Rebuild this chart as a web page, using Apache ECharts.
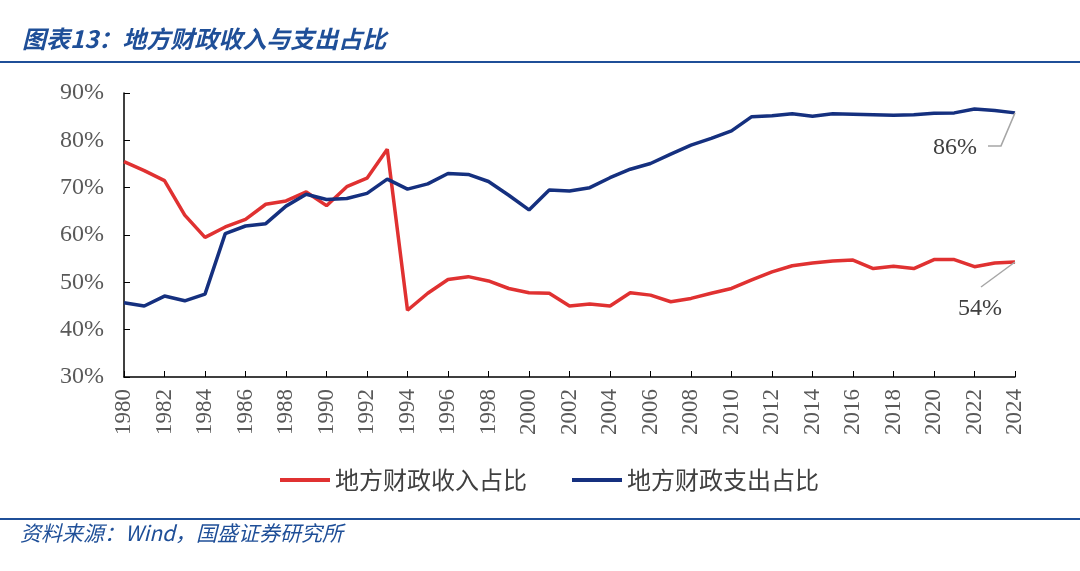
<!DOCTYPE html>
<html>
<head>
<meta charset="utf-8">
<script src="https://cdn.jsdelivr.net/npm/echarts@6/dist/echarts.min.js"></script>
<style>
html,body{margin:0;padding:0;background:#fff;}
#chart{width:1080px;height:571px;}
</style>
</head>
<body>
<div id="chart"></div>
<script>
var years = [];
for (var y = 1980; y <= 2024; y++) years.push(String(y));

var revenueShare = [75.5,73.6,71.5,64.2,59.5,61.7,63.3,66.5,67.2,69.1,66.2,70.2,72.0,78.1,44.1,47.7,50.6,51.2,50.3,48.7,47.8,47.7,45.0,45.4,45.0,47.8,47.3,45.9,46.6,47.7,48.7,50.5,52.2,53.5,54.1,54.5,54.7,52.9,53.4,52.9,54.8,54.8,53.3,54.1,54.3];
var expenditureShare = [45.7,45.0,47.1,46.1,47.5,60.3,61.9,62.4,66.1,68.6,67.5,67.7,68.8,71.8,69.7,70.8,73.0,72.8,71.3,68.4,65.3,69.5,69.3,70.0,72.1,73.9,75.1,77.1,79.0,80.4,82.0,85.0,85.2,85.6,85.1,85.6,85.5,85.4,85.3,85.4,85.7,85.8,86.6,86.3,85.8];
var seriesNames = ['地方财政收入占比','地方财政支出占比'];
var endLabels = ['54%','86%'];
var yTicks = [30,40,50,60,70,80,90];

var RED = '#e03131';
var BLUE = '#15307f';
var TITLE_BLUE = '#1f4f98';
var LEADER = '#a6a6a6';
var SOURCE_FONT = 'italic 21px "Noto Sans CJK SC"';

function withEndLabel(arr, text) {
  return arr.map(function (v, i) {
    if (i === arr.length - 1) {
      return { value: v, label: { show: true, formatter: text } };
    }
    return v;
  });
}

function baseGraphics() {
  return [
    { type: 'rect', left: 0, top: 61, shape: { width: 1080, height: 2 }, style: { fill: TITLE_BLUE } },
    { type: 'rect', left: 0, top: 518, shape: { width: 1080, height: 2 }, style: { fill: TITLE_BLUE } },
    { type: 'text', left: 20, top: 523, style: { text: '资料来源：Wind，国盛证券研究所', fill: TITLE_BLUE, font: SOURCE_FONT } }
  ];
}

var chart = echarts.init(document.getElementById('chart'));
chart.setOption({
  animation: false,
  title: {
    text: '图表13：地方财政收入与支出占比',
    left: 17, top: 22,
    textStyle: { color: TITLE_BLUE, fontSize: 24, fontWeight: 'bold', fontStyle: 'italic', fontFamily: 'Noto Sans CJK SC' }
  },
  graphic: baseGraphics(),
  legend: {
    bottom: 74, left: 275,
    itemWidth: 50, itemHeight: 4, itemGap: 45,
    icon: 'rect',
    textStyle: { fontSize: 24, color: '#404040', fontFamily: 'Noto Sans CJK SC' },
    data: seriesNames
  },
  grid: { left: 124, right: 65, top: 93, bottom: 194 },
  xAxis: {
    type: 'category', data: years, boundaryGap: false,
    axisLine: { lineStyle: { color: '#000', width: 1.5 } },
    axisTick: { inside: true, interval: 1, length: 6, lineStyle: { color: '#000' } },
    axisLabel: { interval: 1, rotate: 90, margin: 12, fontSize: 23, color: '#595959', fontFamily: 'Liberation Serif' }
  },
  yAxis: {
    type: 'value', min: yTicks[0], max: yTicks[yTicks.length - 1], interval: 10,
    splitLine: { show: false },
    axisLine: { show: true, lineStyle: { color: '#000', width: 1.5 } },
    axisTick: { show: true, inside: true, length: 6, lineStyle: { color: '#000' } },
    axisLabel: { formatter: '{value}%', fontSize: 24, color: '#595959', fontFamily: 'Liberation Serif', margin: 20 }
  },
  series: [
    {
      name: seriesNames[0], type: 'line', data: withEndLabel(revenueShare, endLabels[0]),
      showSymbol: true, symbol: 'circle', symbolSize: 0.1,
      lineStyle: { color: RED, width: 3.5 }, itemStyle: { color: RED },
      label: { show: false, position: 'top', fontSize: 24, color: '#404040', fontFamily: 'Liberation Serif' },
      labelLayout: { dx: -35, dy: 64 }
    },
    {
      name: seriesNames[1], type: 'line', data: withEndLabel(expenditureShare, endLabels[1]),
      showSymbol: true, symbol: 'circle', symbolSize: 0.1,
      lineStyle: { color: BLUE, width: 3.5 }, itemStyle: { color: BLUE },
      label: { show: false, position: 'top', fontSize: 24, color: '#404040', fontFamily: 'Liberation Serif' },
      labelLayout: { dx: -60, dy: 52 }
    }
  ]
});

// leader lines anchored at the last data point of each series
var last = years.length - 1;
var pExp = chart.convertToPixel({ seriesIndex: 1 }, [last, expenditureShare[last]]);
var pRev = chart.convertToPixel({ seriesIndex: 0 }, [last, revenueShare[last]]);
chart.setOption({
  graphic: baseGraphics().concat([
    { type: 'polyline', z: 5, shape: { points: [[pExp[0], pExp[1]], [pExp[0] - 14, pExp[1] + 33], [pExp[0] - 27, pExp[1] + 33]] },
      style: { stroke: LEADER, lineWidth: 1.5, fill: null } },
    { type: 'polyline', z: 5, shape: { points: [[pRev[0], pRev[1]], [pRev[0] - 34, pRev[1] + 25]] },
      style: { stroke: LEADER, lineWidth: 1.5, fill: null } }
  ])
});
</script>
</body>
</html>
